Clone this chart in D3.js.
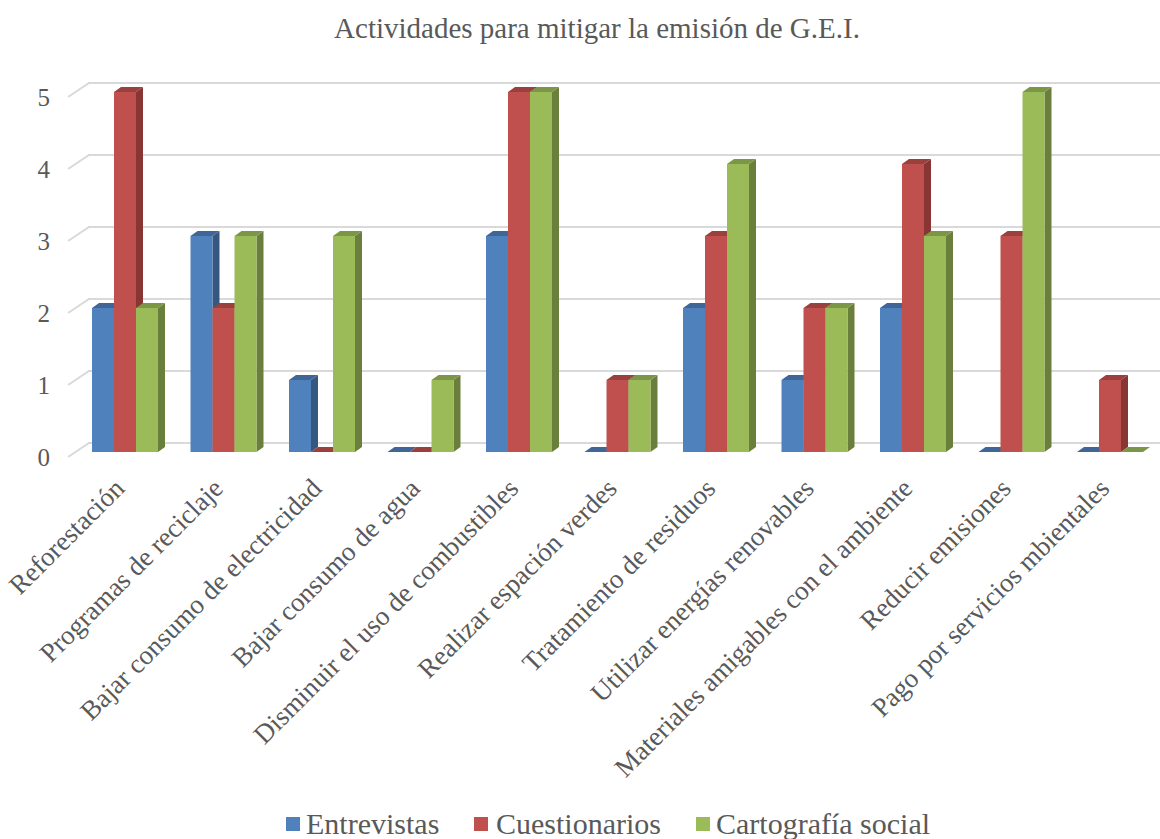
<!DOCTYPE html>
<html>
<head>
<meta charset="utf-8">
<script src="https://cdn.jsdelivr.net/npm/d3@7"></script>
<style>
  html, body { margin: 0; padding: 0; background: #ffffff; }
  svg { display: block; }
</style>
</head>
<body>
<svg id="chart" width="1160" height="839"></svg>
<script>
// Categories (activities) and values for each source of information
const categories = [
  "Reforestación",
  "Programas de reciclaje",
  "Bajar consumo de electricidad",
  "Bajar consumo de agua",
  "Disminuir el uso de combustibles",
  "Realizar espación verdes",
  "Tratamiento de residuos",
  "Utilizar energías renovables",
  "Materiales amigables con el ambiente",
  "Reducir emisiones",
  "Pago por servicios mbientales"
];
const seriesNames = ["Entrevistas", "Cuestionarios", "Cartografía social"];
const entrevistas    = [2, 3, 1, 0, 3, 0, 2, 1, 2, 0, 0];
const cuestionarios  = [5, 2, 0, 0, 5, 1, 3, 2, 4, 3, 1];
const cartografia    = [2, 3, 3, 1, 5, 1, 4, 2, 3, 5, 0];
const yTicks = [0, 1, 2, 3, 4, 5];

const seriesValues = [entrevistas, cuestionarios, cartografia];
const colors = {
  front: ["#4F81BD", "#C0504D", "#9BBB59"],
  side:  ["#36587F", "#873634", "#6A7F3C"],
  top:   ["#3F6697", "#9A403D", "#7C9647"]
};

const svg = d3.select("#chart");
const serif = "'Liberation Serif', 'Times New Roman', serif";

// 3D extrusion offsets for the columns and for the back wall
const dx = 7, dy = -5;
const wallDx = 21, wallDy = -14;

const x = d3.scaleBand()
  .domain(categories)
  .range([75.75, 1159.25])
  .paddingInner(0.33)
  .paddingOuter(0.165);

const xs = d3.scaleBand()
  .domain(seriesNames)
  .range([0, x.bandwidth()])
  .padding(0);

const y = d3.scaleLinear().domain([0, 5]).range([452, 92]);

// Title
svg.append("text")
  .attr("x", 597).attr("y", 38)
  .attr("text-anchor", "middle")
  .attr("font-family", serif)
  .attr("font-size", 29)
  .attr("fill", "#595959")
  .text("Actividades para mitigar la emisión de G.E.I.");

// Gridlines with the slanted floor segment
const grid = svg.append("g");
yTicks.forEach(t => {
  const yb = y(t) - 9;
  grid.append("path")
    .attr("d", `M68,${yb - wallDy} L${68 + wallDx},${yb} L1160,${yb}`)
    .attr("fill", "none")
    .attr("stroke", "#D9D9D9")
    .attr("stroke-width", 2);
});

// Y axis labels
const yAxis = d3.axisLeft(y).tickValues(yTicks).tickFormat(d3.format("d")).tickSize(0).tickPadding(0);
const yg = svg.append("g").attr("transform", "translate(50,5)").call(yAxis);
yg.select(".domain").remove();
yg.selectAll("text")
  .attr("font-family", serif)
  .attr("font-size", 25)
  .attr("fill", "#595959");

// Columns
const bars = svg.append("g");
categories.forEach((cat, ci) => {
  seriesNames.forEach((s, si) => {
    const v = seriesValues[si][ci];
    const x0 = x(cat) + xs(s);
    const w = xs.bandwidth();
    const yt = y(v), yb = y(0);
    const g = bars.append("g");
    // side face
    g.append("path")
      .attr("d", `M${x0 + w},${yt} L${x0 + w + dx},${yt + dy} L${x0 + w + dx},${yb + dy} L${x0 + w},${yb} Z`)
      .attr("fill", colors.side[si]);
    // top face
    g.append("path")
      .attr("d", `M${x0},${yt} L${x0 + dx},${yt + dy} L${x0 + w + dx},${yt + dy} L${x0 + w},${yt} Z`)
      .attr("fill", colors.top[si]);
    // front face
    if (v > 0) {
      g.append("rect")
        .attr("x", x0).attr("y", yt)
        .attr("width", w).attr("height", yb - yt)
        .attr("fill", colors.front[si]);
    }
  });
});

// Category labels, rotated
const xl = svg.append("g");
categories.forEach(cat => {
  const cx = x(cat) + x.bandwidth() / 2 + 1;
  const cy = 490;
  xl.append("text")
    .attr("transform", `translate(${cx},${cy}) rotate(-45)`)
    .attr("text-anchor", "end")
    .attr("font-family", serif)
    .attr("font-size", 27)
    .attr("fill", "#595959")
    .text(cat);
});

// Legend
const legendItems = [
  { name: seriesNames[0], sx: 286, tx: 306 },
  { name: seriesNames[1], sx: 474, tx: 496 },
  { name: seriesNames[2], sx: 696, tx: 716 }
];
const lg = svg.append("g");
legendItems.forEach((d, i) => {
  lg.append("rect")
    .attr("x", d.sx).attr("y", 817)
    .attr("width", 14).attr("height", 14)
    .attr("fill", colors.front[i]);
  lg.append("text")
    .attr("x", d.tx).attr("y", 834)
    .attr("font-family", serif)
    .attr("font-size", 30)
    .attr("fill", "#595959")
    .text(d.name);
});
</script>
</body>
</html>
